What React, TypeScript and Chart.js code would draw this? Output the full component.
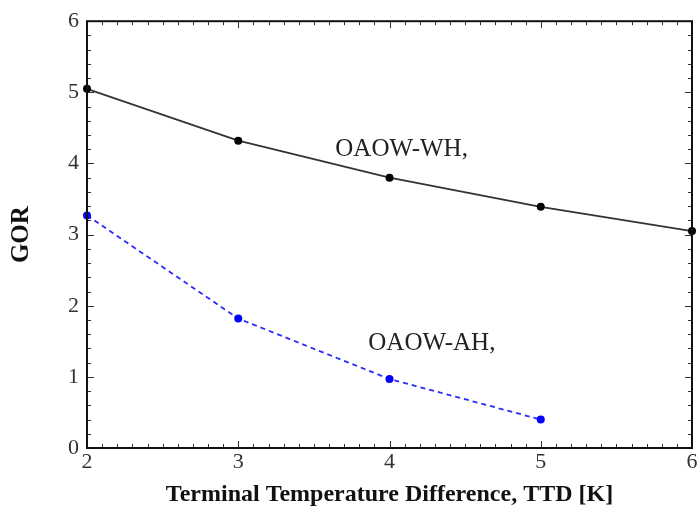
import React, { useEffect, useRef } from "react";
import { Chart, registerables } from "chart.js";

Chart.register(...registerables);

const ttd = [2, 3, 4, 5, 6];
const gorWH = [5.05, 4.32, 3.8, 3.39, 3.05];
const gorAH = [3.27, 1.82, 0.97, 0.4];
const xTicks = [2, 3, 4, 5, 6];
const yTicks = [0, 1, 2, 3, 4, 5, 6];
const labelWH = { text: "OAOW-WH,", x: 4.08, y: 4.2 };
const labelAH = { text: "OAOW-AH,", x: 4.28, y: 1.47 };

const SERIF = "'Liberation Serif', 'DejaVu Serif', serif";

const framePlugin = {
  id: "frame",
  afterDatasetsDraw(chart: any) {
    const { ctx, chartArea: a, scales } = chart;
    const xs = scales.x;
    const ys = scales.y;
    ctx.save();
    ctx.strokeStyle = "#333";
    ctx.lineWidth = 1;
    ctx.beginPath();
    for (let i = 0; i <= 40; i++) {
      const v = 2 + i * 0.1;
      const px = Math.round(xs.getPixelForValue(v)) + 0.5;
      const len = i % 10 === 0 ? 7 : 4;
      ctx.moveTo(px, a.bottom);
      ctx.lineTo(px, a.bottom - len);
      ctx.moveTo(px, a.top);
      ctx.lineTo(px, a.top + len);
    }
    for (let i = 0; i <= 30; i++) {
      const v = i * 0.2;
      const py = Math.round(ys.getPixelForValue(v)) + 0.5;
      const len = i % 5 === 0 ? 7 : 4;
      ctx.moveTo(a.left, py);
      ctx.lineTo(a.left + len, py);
      ctx.moveTo(a.right, py);
      ctx.lineTo(a.right - len, py);
    }
    ctx.stroke();
    ctx.strokeStyle = "#111";
    ctx.lineWidth = 2;
    ctx.strokeRect(a.left, a.top, a.right - a.left, a.bottom - a.top);
    ctx.fillStyle = "#222";
    ctx.font = "25px " + SERIF;
    ctx.textAlign = "center";
    ctx.textBaseline = "middle";
    for (const l of [labelWH, labelAH]) {
      ctx.fillText(l.text, xs.getPixelForValue(l.x), ys.getPixelForValue(l.y));
    }
    ctx.restore();
  },
};

export default function App() {
  const ref = useRef<HTMLCanvasElement | null>(null);
  useEffect(() => {
    if (!ref.current) return;
    const chart = new Chart(ref.current, {
      type: "line",
      data: {
        datasets: [
          {
            label: "OAOW-WH",
            data: ttd.map((x, i) => ({ x, y: gorWH[i] })),
            borderColor: "#333",
            backgroundColor: "#000",
            borderWidth: 1.8,
            pointRadius: 4,
            pointBorderWidth: 0,
            pointBackgroundColor: "#000",
            clip: false as any,
          },
          {
            label: "OAOW-AH",
            data: gorAH.map((y, i) => ({ x: ttd[i], y })),
            borderColor: "#2a2aff",
            backgroundColor: "#0000ff",
            borderWidth: 1.8,
            borderDash: [5, 4],
            pointRadius: 4,
            pointBorderWidth: 0,
            pointBackgroundColor: "#0000ff",
            clip: false as any,
          },
        ],
      },
      options: {
        animation: false,
        responsive: true,
        maintainAspectRatio: false,
        layout: { padding: { top: 20, right: 0, left: 0, bottom: 0 } },
        plugins: { legend: { display: false }, tooltip: { enabled: false } },
        scales: {
          x: {
            type: "linear",
            min: 2,
            max: 6,
            afterBuildTicks: (s: any) => {
              s.ticks = xTicks.map((v) => ({ value: v }));
            },
            afterFit: (s: any) => {
              s.height = 59;
              s.paddingRight = 5;
            },
            grid: { display: false, drawTicks: false },
            border: { display: false },
            ticks: {
              padding: 1,
              color: "#333",
              font: { family: SERIF, size: 22 },
              maxRotation: 0,
            },
            title: {
              display: true,
              text: "Terminal Temperature Difference, TTD [K]",
              color: "#111",
              font: { family: SERIF, size: 24, weight: "bold", lineHeight: 1.0 },
              padding: { top: 0, bottom: 0 },
            },
          },
          y: {
            type: "linear",
            min: 0,
            max: 6,
            afterBuildTicks: (s: any) => {
              s.ticks = yTicks.map((v) => ({ value: v }));
            },
            afterFit: (s: any) => {
              s.width = 87;
            },
            grid: { display: false, drawTicks: false },
            border: { display: false },
            ticks: {
              padding: 8,
              color: "#333",
              font: { family: SERIF, size: 22 },
            },
            title: {
              display: true,
              text: "GOR",
              color: "#111",
              font: { family: SERIF, size: 25, weight: "bold" },
              padding: { top: 7, bottom: 0 },
            },
          },
        },
      },
      plugins: [framePlugin],
    });
    return () => chart.destroy();
  }, []);
  return (
    <div style={{ position: "fixed", left: 0, top: 0, width: 697, height: 507, background: "#fff" }}>
      <canvas ref={ref} />
    </div>
  );
}
